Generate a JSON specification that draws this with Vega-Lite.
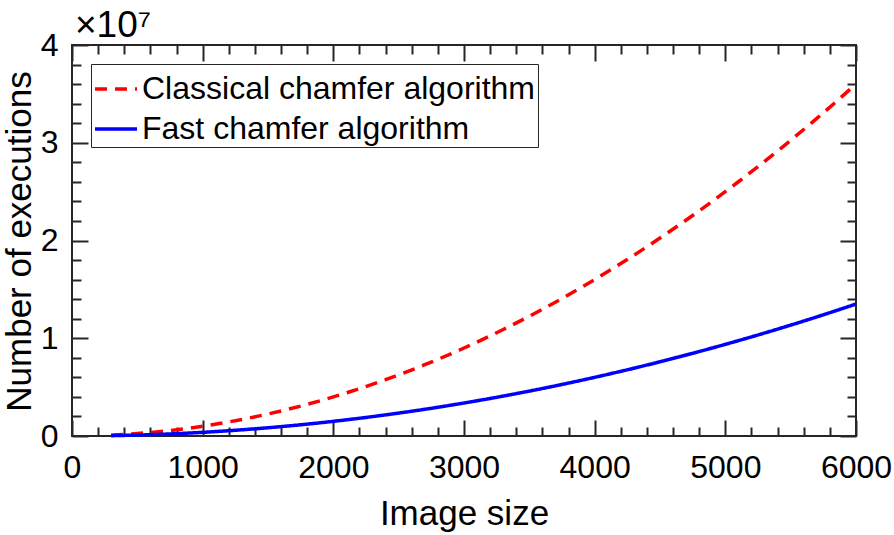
{
  "$schema": "https://vega.github.io/schema/vega-lite/v6.json",
  "width": 784,
  "height": 391,
  "autosize": {"type": "none"},
  "padding": {"left": 72, "top": 45, "right": 38, "bottom": 99},
  "background": "white",
  "title": {"text": "×10⁷", "anchor": "start", "frame": "group", "fontSize": 37, "font": "Liberation Sans", "fontWeight": "normal", "color": "#000000", "offset": 8, "dx": 3, "dy": 24},
  "data": {"values": [
    {"size": 300, "value": 90000, "series": "Classical chamfer algorithm"},
    {"size": 600, "value": 360000, "series": "Classical chamfer algorithm"},
    {"size": 900, "value": 810000, "series": "Classical chamfer algorithm"},
    {"size": 1200, "value": 1440000, "series": "Classical chamfer algorithm"},
    {"size": 1500, "value": 2250000, "series": "Classical chamfer algorithm"},
    {"size": 1800, "value": 3240000, "series": "Classical chamfer algorithm"},
    {"size": 2100, "value": 4410000, "series": "Classical chamfer algorithm"},
    {"size": 2400, "value": 5760000, "series": "Classical chamfer algorithm"},
    {"size": 2700, "value": 7290000, "series": "Classical chamfer algorithm"},
    {"size": 3000, "value": 9000000, "series": "Classical chamfer algorithm"},
    {"size": 3300, "value": 10890000, "series": "Classical chamfer algorithm"},
    {"size": 3600, "value": 12960000, "series": "Classical chamfer algorithm"},
    {"size": 3900, "value": 15210000, "series": "Classical chamfer algorithm"},
    {"size": 4200, "value": 17640000, "series": "Classical chamfer algorithm"},
    {"size": 4500, "value": 20250000, "series": "Classical chamfer algorithm"},
    {"size": 4800, "value": 23040000, "series": "Classical chamfer algorithm"},
    {"size": 5100, "value": 26010000, "series": "Classical chamfer algorithm"},
    {"size": 5400, "value": 29160000, "series": "Classical chamfer algorithm"},
    {"size": 5700, "value": 32490000, "series": "Classical chamfer algorithm"},
    {"size": 6000, "value": 36000000, "series": "Classical chamfer algorithm"},
    {"size": 300, "value": 33750, "series": "Fast chamfer algorithm"},
    {"size": 600, "value": 135000, "series": "Fast chamfer algorithm"},
    {"size": 900, "value": 303750, "series": "Fast chamfer algorithm"},
    {"size": 1200, "value": 540000, "series": "Fast chamfer algorithm"},
    {"size": 1500, "value": 843750, "series": "Fast chamfer algorithm"},
    {"size": 1800, "value": 1215000, "series": "Fast chamfer algorithm"},
    {"size": 2100, "value": 1653750, "series": "Fast chamfer algorithm"},
    {"size": 2400, "value": 2160000, "series": "Fast chamfer algorithm"},
    {"size": 2700, "value": 2733750, "series": "Fast chamfer algorithm"},
    {"size": 3000, "value": 3375000, "series": "Fast chamfer algorithm"},
    {"size": 3300, "value": 4083750, "series": "Fast chamfer algorithm"},
    {"size": 3600, "value": 4860000, "series": "Fast chamfer algorithm"},
    {"size": 3900, "value": 5703750, "series": "Fast chamfer algorithm"},
    {"size": 4200, "value": 6615000, "series": "Fast chamfer algorithm"},
    {"size": 4500, "value": 7593750, "series": "Fast chamfer algorithm"},
    {"size": 4800, "value": 8640000, "series": "Fast chamfer algorithm"},
    {"size": 5100, "value": 9753750, "series": "Fast chamfer algorithm"},
    {"size": 5400, "value": 10935000, "series": "Fast chamfer algorithm"},
    {"size": 5700, "value": 12183750, "series": "Fast chamfer algorithm"},
    {"size": 6000, "value": 13500000, "series": "Fast chamfer algorithm"}
  ]},
  "layer": [
    {
      "mark": {"type": "line", "opacity": 0},
      "encoding": {
        "detail": {"field": "series", "type": "nominal"},
        "x": {"field": "size", "type": "quantitative", "scale": {"domain": [0, 6000], "nice": false},
          "axis": {"orient": "bottom", "values": [200, 400, 600, 800, 1200, 1400, 1600, 1800, 2200, 2400, 2600, 2800, 3200, 3400, 3600, 3800, 4200, 4400, 4600, 4800, 5200, 5400, 5600, 5800], "tickSize": -9, "labels": false, "title": null}},
        "y": {"field": "value", "type": "quantitative", "scale": {"domain": [0, 40000000], "nice": false},
          "axis": {"orient": "left", "values": [2000000, 4000000, 6000000, 8000000, 12000000, 14000000, 16000000, 18000000, 22000000, 24000000, 26000000, 28000000, 32000000, 34000000, 36000000, 38000000], "tickSize": -9, "labels": false, "title": null}}
      }
    },
    {
      "mark": {"type": "line", "opacity": 0},
      "encoding": {
        "detail": {"field": "series", "type": "nominal"},
        "x": {"field": "size", "type": "quantitative",
          "axis": {"orient": "top", "values": [0, 1000, 2000, 3000, 4000, 5000, 6000], "tickSize": -16, "labels": false, "title": null}},
        "y": {"field": "value", "type": "quantitative",
          "axis": {"orient": "right", "values": [0, 10000000, 20000000, 30000000, 40000000], "tickSize": -16, "labels": false, "title": null}}
      }
    },
    {
      "mark": {"type": "line", "opacity": 0},
      "encoding": {
        "detail": {"field": "series", "type": "nominal"},
        "x": {"field": "size", "type": "quantitative",
          "axis": {"orient": "top", "values": [200, 400, 600, 800, 1200, 1400, 1600, 1800, 2200, 2400, 2600, 2800, 3200, 3400, 3600, 3800, 4200, 4400, 4600, 4800, 5200, 5400, 5600, 5800], "tickSize": -9, "labels": false, "title": null}},
        "y": {"field": "value", "type": "quantitative",
          "axis": {"orient": "right", "values": [2000000, 4000000, 6000000, 8000000, 12000000, 14000000, 16000000, 18000000, 22000000, 24000000, 26000000, 28000000, 32000000, 34000000, 36000000, 38000000], "tickSize": -9, "labels": false, "title": null}}
      }
    },
    {
      "mark": {"type": "line", "strokeWidth": 3.5, "interpolate": "monotone"},
      "encoding": {
        "x": {"field": "size", "type": "quantitative",
          "axis": {"orient": "bottom", "values": [0, 1000, 2000, 3000, 4000, 5000, 6000], "format": "d", "tickSize": -16, "labelPadding": 32, "title": "Image size", "titleY": 88, "titleBaseline": "alphabetic"}},
        "y": {"field": "value", "type": "quantitative",
          "axis": {"orient": "left", "values": [0, 10000000, 20000000, 30000000, 40000000], "labelExpr": "datum.value / 10000000", "tickSize": -16, "labelPadding": 30, "title": "Number of executions", "titleX": -53, "titleY": 196, "titleAlign": "center", "titleBaseline": "middle", "titleAngle": 270}},
        "color": {"field": "series", "type": "nominal", "scale": {"domain": ["Classical chamfer algorithm", "Fast chamfer algorithm"], "range": ["#ff0000", "#0000ff"]}, "legend": {"title": null}},
        "strokeDash": {"field": "series", "type": "nominal", "scale": {"domain": ["Classical chamfer algorithm", "Fast chamfer algorithm"], "range": [[12, 8], [1, 0]]}, "legend": {"title": null}}
      }
    }
  ],
  "resolve": {"axis": {"x": "independent", "y": "independent"}},
  "config": {
    "view": {"stroke": "#262626", "strokeWidth": 2},
    "axis": {"domain": false, "grid": false, "tickColor": "#262626", "tickWidth": 2, "labelFont": "Liberation Sans", "labelFontSize": 32, "labelColor": "#000000", "titleFont": "Liberation Sans", "titleFontSize": 35, "titleFontWeight": "normal", "titleColor": "#000000", "labelFlush": false, "labelOverlap": false},
    "legend": {"orient": "top-left", "offset": 19, "symbolType": "stroke", "symbolSize": 1764, "symbolStrokeWidth": 3.5, "labelFont": "Liberation Sans", "labelFontSize": 32, "labelColor": "#000000", "labelLimit": 0, "labelOffset": 3, "padding": 2, "rowPadding": 1, "strokeColor": "#262626", "fillColor": "white", "cornerRadius": 0}
  }
}
